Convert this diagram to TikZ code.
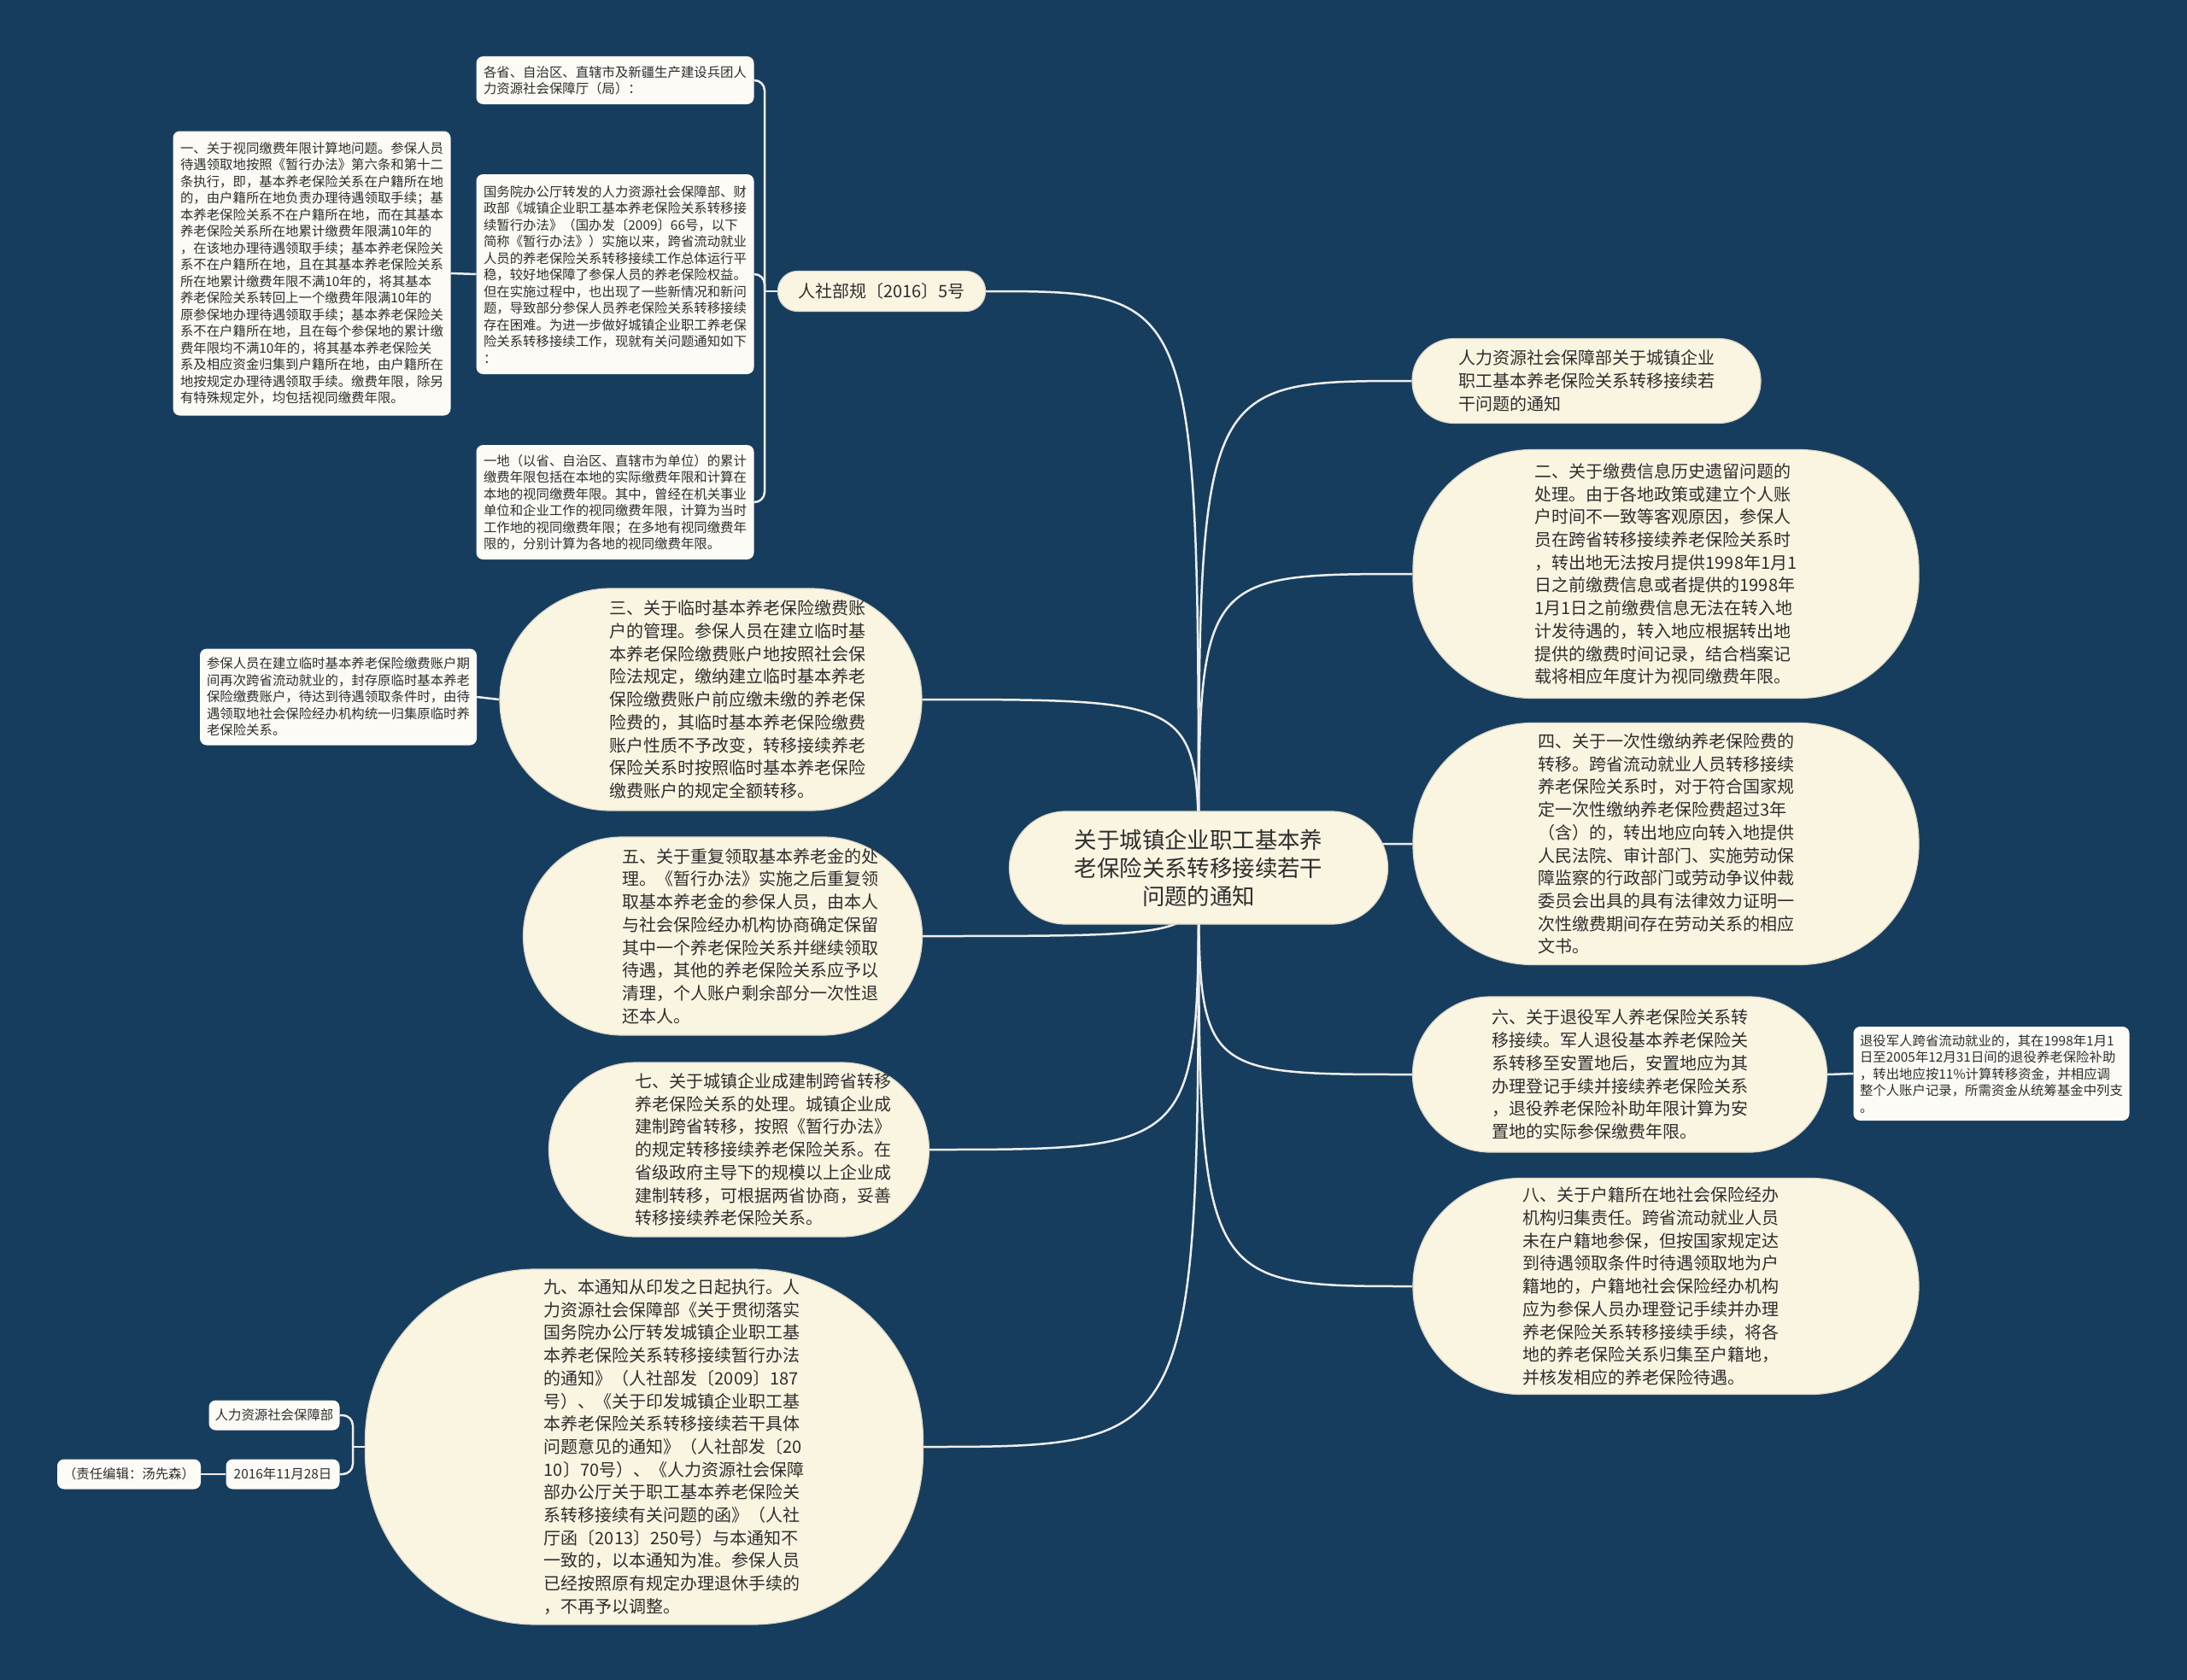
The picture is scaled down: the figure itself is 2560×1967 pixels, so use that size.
\documentclass[tikz,border=0pt]{standalone}
\usepackage{fontspec}
\setmainfont{Noto Sans CJK SC}
\definecolor{bgc}{HTML}{173D5E}
\definecolor{cream}{HTML}{FAF5E1}
\definecolor{creamedge}{HTML}{DCD8C6}
\definecolor{wbox}{HTML}{FCFBF6}
\definecolor{txt}{HTML}{2E2E2E}
\definecolor{lnc}{HTML}{EEEEEE}
\pgfdeclarelayer{back}
\pgfdeclarelayer{edges}
\pgfsetlayers{back,edges,main}
\tikzset{
  mainbox/.style={draw=creamedge, line width=1.2, fill=cream, text=txt, align=left, inner sep=0, font=\fontsize{20}{26.7}\selectfont},
  mtext/.style={text=txt, align=left, inner sep=0, font=\fontsize{20}{26.7}\selectfont},
  smallbox/.style={draw=none, fill=wbox, rounded corners=8, text=txt, align=left, inner sep=0, font=\fontsize{15.4}{19.5}\selectfont},
  conn/.style={draw=lnc, line width=2.5},
}
\begin{document}
\begin{tikzpicture}[x=1pt,y=-1pt]
\begin{pgfonlayer}{back}
\fill[bgc] (0,0) rectangle (2560,1967);
\end{pgfonlayer}
\useasboundingbox (0,0) rectangle (2560,1967);

% central
\node[mainbox, align=center, minimum width=443, minimum height=132, rounded corners=66, font=\fontsize{26.4}{33}\selectfont] (c) at (1403,1016) {关于城镇企业职工基本养\\老保险关系转移接续若干\\问题的通知};

% right side
\node[mainbox, minimum width=408, minimum height=99, rounded corners=49] (R1) at (1857,446) {人力资源社会保障部关于城镇企业\\职工基本养老保险关系转移接续若\\干问题的通知};

\node[mainbox, minimum width=592, minimum height=291, rounded corners=140] (R2) at (1950,672) {二、关于缴费信息历史遗留问题的\\处理。由于各地政策或建立个人账\\户时间不一致等客观原因，参保人\\员在跨省转移接续养老保险关系时\\，转出地无法按月提供1998年1月1\\日之前缴费信息或者提供的1998年\\1月1日之前缴费信息无法在转入地\\计发待遇的，转入地应根据转出地\\提供的缴费时间记录，结合档案记\\载将相应年度计为视同缴费年限。};

\node[mainbox, minimum width=592, minimum height=283, rounded corners=140] (R3) at (1950,988) {四、关于一次性缴纳养老保险费的\\转移。跨省流动就业人员转移接续\\养老保险关系时，对于符合国家规\\定一次性缴纳养老保险费超过3年\\（含）的，转出地应向转入地提供\\人民法院、审计部门、实施劳动保\\障监察的行政部门或劳动争议仲裁\\委员会出具的具有法律效力证明一\\次性缴费期间存在劳动关系的相应\\文书。};

\node[mainbox, minimum width=485, minimum height=182, rounded corners=91] (R4) at (1896,1258) {六、关于退役军人养老保险关系转\\移接续。军人退役基本养老保险关\\系转移至安置地后，安置地应为其\\办理登记手续并接续养老保险关系\\，退役养老保险补助年限计算为安\\置地的实际参保缴费年限。};

\node[smallbox, minimum width=323, minimum height=110] (R4c) at (2331,1257) {退役军人跨省流动就业的，其在1998年1月1\\日至2005年12月31日间的退役养老保险补助\\，转出地应按11\%计算转移资金，并相应调\\整个人账户记录，所需资金从统筹基金中列支\\。};

\node[mainbox, minimum width=592, minimum height=253, rounded corners=126] (R5) at (1950,1506) {};
\node[mtext] (R5t) at ([xshift=-18]R5.center) {八、关于户籍所在地社会保险经办\\机构归集责任。跨省流动就业人员\\未在户籍地参保，但按国家规定达\\到待遇领取条件时待遇领取地为户\\籍地的，户籍地社会保险经办机构\\应为参保人员办理登记手续并办理\\养老保险关系转移接续手续，将各\\地的养老保险关系归集至户籍地，\\并核发相应的养老保险待遇。};

% left side
\node[mainbox, minimum width=243, minimum height=47, rounded corners=23] (L1) at (1032,341) {人社部规〔2016〕5号};

\node[smallbox, minimum width=325, minimum height=56] (S1) at (720,94) {各省、自治区、直辖市及新疆生产建设兵团人\\力资源社会保障厅（局）：};

\node[smallbox, minimum width=325, minimum height=234] (S2) at (720,321) {国务院办公厅转发的人力资源社会保障部、财\\政部《城镇企业职工基本养老保险关系转移接\\续暂行办法》（国办发〔2009〕66号，以下\\简称《暂行办法》）实施以来，跨省流动就业\\人员的养老保险关系转移接续工作总体运行平\\稳，较好地保障了参保人员的养老保险权益。\\但在实施过程中，也出现了一些新情况和新问\\题，导致部分参保人员养老保险关系转移接续\\存在困难。为进一步做好城镇企业职工养老保\\险关系转移接续工作，现就有关问题通知如下\\：};

\node[smallbox, minimum width=325, minimum height=134] (S3) at (720,588) {一地（以省、自治区、直辖市为单位）的累计\\缴费年限包括在本地的实际缴费年限和计算在\\本地的视同缴费年限。其中，曾经在机关事业\\单位和企业工作的视同缴费年限，计算为当时\\工作地的视同缴费年限；在多地有视同缴费年\\限的，分别计算为各地的视同缴费年限。};

\node[smallbox, minimum width=325, minimum height=333] (S4) at (365,320) {一、关于视同缴费年限计算地问题。参保人员\\待遇领取地按照《暂行办法》第六条和第十二\\条执行，即，基本养老保险关系在户籍所在地\\的，由户籍所在地负责办理待遇领取手续；基\\本养老保险关系不在户籍所在地，而在其基本\\养老保险关系所在地累计缴费年限满10年的\\，在该地办理待遇领取手续；基本养老保险关\\系不在户籍所在地，且在其基本养老保险关系\\所在地累计缴费年限不满10年的，将其基本\\养老保险关系转回上一个缴费年限满10年的\\原参保地办理待遇领取手续；基本养老保险关\\系不在户籍所在地，且在每个参保地的累计缴\\费年限均不满10年的，将其基本养老保险关\\系及相应资金归集到户籍所在地，由户籍所在\\地按规定办理待遇领取手续。缴费年限，除另\\有特殊规定外，均包括视同缴费年限。};

\node[mainbox, minimum width=494, minimum height=260, rounded corners=130] (L2) at (832,819) {};
\node[mtext] (L2t) at ([xshift=31]L2.center) {三、关于临时基本养老保险缴费账\\户的管理。参保人员在建立临时基\\本养老保险缴费账户地按照社会保\\险法规定，缴纳建立临时基本养老\\保险缴费账户前应缴未缴的养老保\\险费的，其临时基本养老保险缴费\\账户性质不予改变，转移接续养老\\保险关系时按照临时基本养老保险\\缴费账户的规定全额转移。};

\node[smallbox, minimum width=324, minimum height=113] (S5) at (396,816) {参保人员在建立临时基本养老保险缴费账户期\\间再次跨省流动就业的，封存原临时基本养老\\保险缴费账户，待达到待遇领取条件时，由待\\遇领取地社会保险经办机构统一归集原临时养\\老保险关系。};

\node[mainbox, minimum width=467, minimum height=232, rounded corners=116] (L3) at (846,1096) {};
\node[mtext] (L3t) at ([xshift=32]L3.center) {五、关于重复领取基本养老金的处\\理。《暂行办法》实施之后重复领\\取基本养老金的参保人员，由本人\\与社会保险经办机构协商确定保留\\其中一个养老保险关系并继续领取\\待遇，其他的养老保险关系应予以\\清理，个人账户剩余部分一次性退\\还本人。};

\node[mainbox, minimum width=445, minimum height=204, rounded corners=102] (L4) at (865,1346) {};
\node[mtext] (L4t) at ([xshift=28]L4.center) {七、关于城镇企业成建制跨省转移\\养老保险关系的处理。城镇企业成\\建制跨省转移，按照《暂行办法》\\的规定转移接续养老保险关系。在\\省级政府主导下的规模以上企业成\\建制转移，可根据两省协商，妥善\\转移接续养老保险关系。};

\node[mainbox, minimum width=653, minimum height=416, rounded corners=200] (L5) at (754,1694) {};
\node[mtext] (L5t) at ([xshift=35]L5.center) {九、本通知从印发之日起执行。人\\力资源社会保障部《关于贯彻落实\\国务院办公厅转发城镇企业职工基\\本养老保险关系转移接续暂行办法\\的通知》（人社部发〔2009〕187\\号）、《关于印发城镇企业职工基\\本养老保险关系转移接续若干具体\\问题意见的通知》（人社部发〔20\\10〕70号）、《人力资源社会保障\\部办公厅关于职工基本养老保险关\\系转移接续有关问题的函》（人社\\厅函〔2013〕250号）与本通知不\\一致的，以本通知为准。参保人员\\已经按照原有规定办理退休手续的\\，不再予以调整。};

\node[smallbox, align=center, minimum width=153, minimum height=35] (S6) at (321,1657) {人力资源社会保障部};
\node[smallbox, align=center, minimum width=133, minimum height=35] (S7) at (331,1726) {2016年11月28日};
\node[smallbox, align=center, minimum width=168, minimum height=35] (S8) at (151,1726) {（责任编辑：汤先森）};

\coordinate (b1) at (895,341);
\coordinate (b5) at (413,1694);

\begin{pgfonlayer}{edges}
\foreach \t in {L1,L2,L3,L4,L5}
  \draw[conn] (c.center) .. controls (c.center |- \t.east) and (c.center |- \t.east) .. (\t.east);
\foreach \t in {R1,R2,R3,R4,R5}
  \draw[conn] (c.center) .. controls (c.center |- \t.west) and (c.center |- \t.west) .. (\t.west);
\draw[conn] (L1.west) -- (b1);
\draw[conn, rounded corners=12] (b1) |- (S1.east);
\draw[conn, rounded corners=12] (b1) |- (S2.east);
\draw[conn, rounded corners=12] (b1) |- (S3.east);
\draw[conn] (S4.east) -- (S2.west);
\draw[conn] (S5.east) -- (L2.west);
\draw[conn] (R4.east) -- (R4c.west);
\draw[conn] (L5.west) -- (b5);
\draw[conn, rounded corners=12] (b5) |- (S6.east);
\draw[conn, rounded corners=12] (b5) |- (S7.east);
\draw[conn] (S8.east) -- (S7.west);
\end{pgfonlayer}
\end{tikzpicture}
\end{document}
